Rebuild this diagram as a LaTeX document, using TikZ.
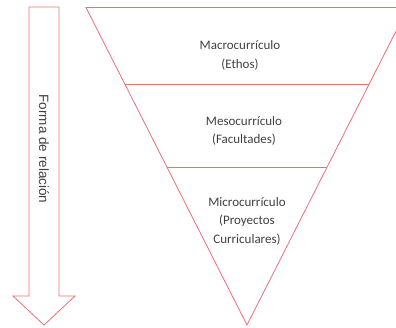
\documentclass[tikz,border=0pt]{standalone}
\usepackage{fontspec}
\setmainfont{Carlito}
\newfontfamily\rotfont{Liberation Sans}
\definecolor{rojo}{RGB}{232,112,116}
\definecolor{texto}{RGB}{64,64,64}
\tikzset{
  linea/.style={draw=rojo,line width=0.8pt,line join=miter},
  nivel/.style={align=center,text=texto,font=\fontsize{13}{18.5}\selectfont},
}
\begin{document}
\begin{tikzpicture}[x=1pt,y=-1pt]
  \useasboundingbox (0,0) rectangle (396,327);
  \clip (0,0) rectangle (396,327);
  \begin{scope}[linea]
    % flecha
    \draw (29,7)--(59,7)--(59,296)--(75,296)--(44,325)--(13,296)--(29,296)--cycle;
    % triangulo
    \draw (86,7.5)--(408,7.5)--(247,325)--cycle;
    \draw (124.8,84)--(369.2,84);
    \draw (166.9,167)--(327.1,167);
  \end{scope}
  \node[nivel] (macro) at (240,55.5) {Macrocurrículo\\(Ethos)};
  \node[nivel] (meso) at (244,131) {Mesocurrículo\\(Facultades)};
  \node[nivel] (micro) at (247,221) {Microcurrículo\\(Proyectos\\Curriculares)};
  \node[rotate=-90,text=texto,font=\rotfont\fontsize{13.5}{16}\selectfont] (forma) at (44,149) {Forma de relación};
\end{tikzpicture}
\end{document}
